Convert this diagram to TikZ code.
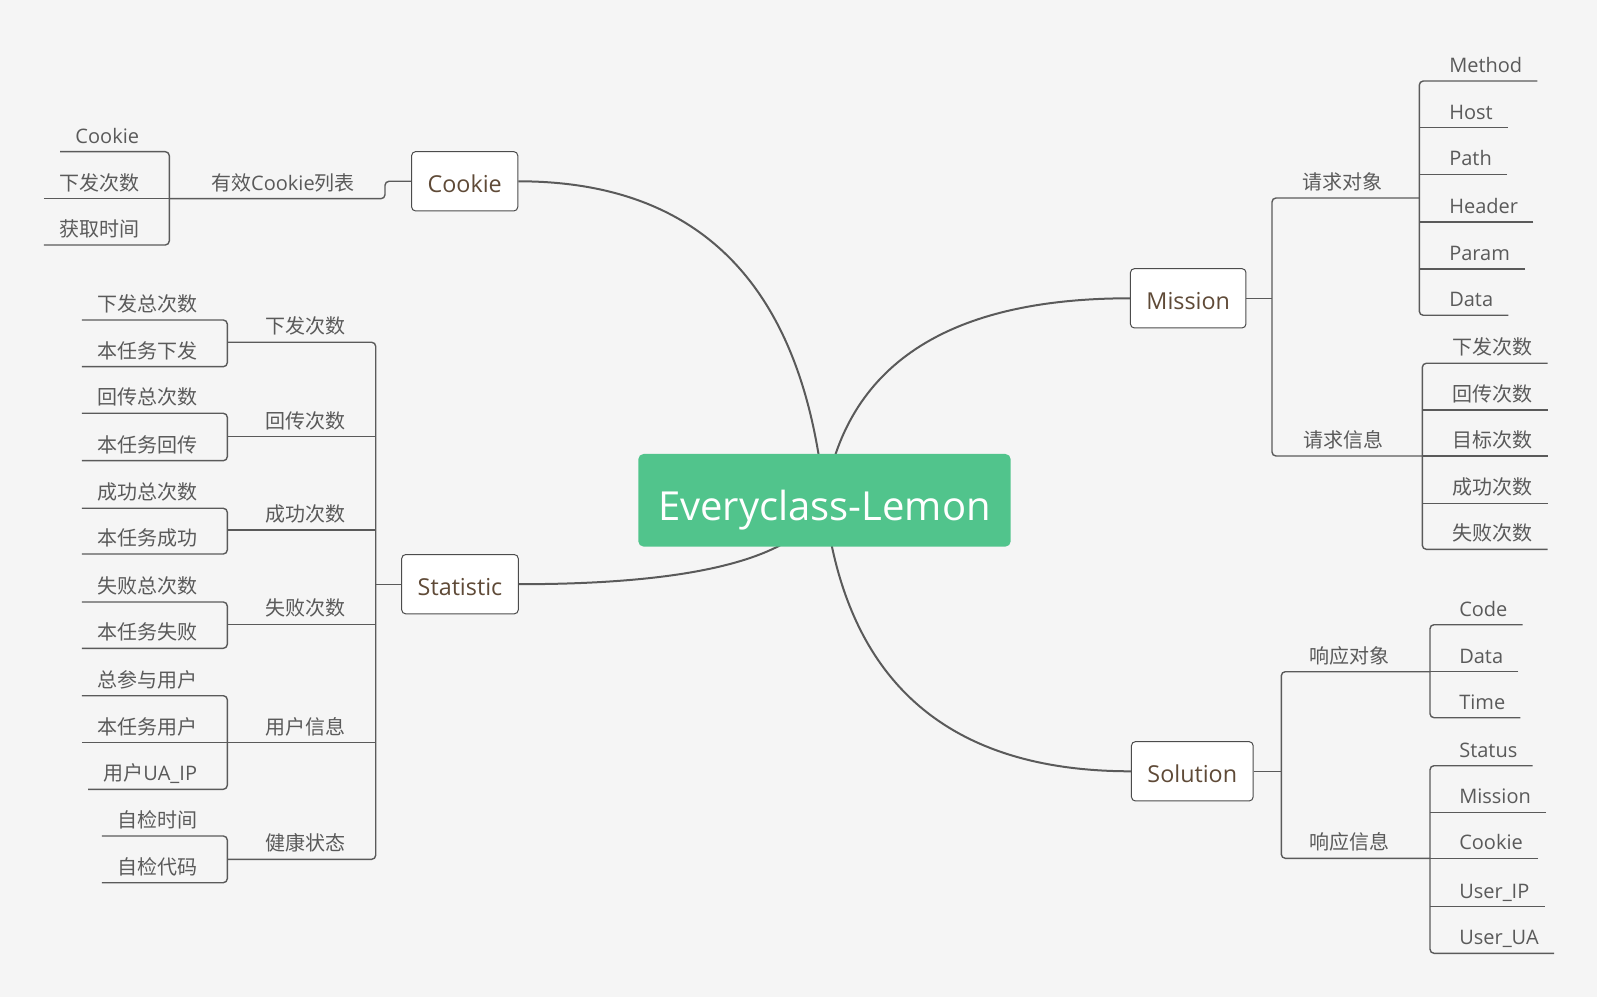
\documentclass[tikz,border=0pt]{standalone}
\usepackage{fontspec}
\setmainfont{Open Sans}
\newfontfamily\cjk{Noto Sans CJK SC}
\usetikzlibrary{calc,backgrounds}
\definecolor{paper}{HTML}{F5F5F5}
\definecolor{wire}{HTML}{5A5A5A}
\definecolor{ink}{HTML}{5A5A5A}
\definecolor{boxink}{HTML}{5F4A37}
\definecolor{hubgreen}{HTML}{51C48C}
\tikzset{
  topic/.style={inner xsep=11.25pt, inner ysep=0pt, text height=17.7pt, text depth=6.3pt,
    font=\fontsize{15}{18}\selectfont, text=ink},
  zh/.style={topic, font=\fontsize{15}{18}\selectfont\cjk},
  topicbox/.style={draw=wire!85!black, fill=white, rounded corners=3pt, line width=0.75pt,
    minimum height=44.5pt, inner xsep=12pt, inner ysep=0pt, text height=16.5pt, text depth=0pt,
    font=\fontsize{17.5}{20}\selectfont, text=boxink},
  hub/.style={fill=hubgreen, rounded corners=4pt, minimum width=279.3pt, minimum height=69.5pt,
    inner ysep=0pt, text height=31pt, text depth=0pt,
    font=\fontsize{30}{34}\selectfont, text=white},
  branch/.style={draw=wire, line width=1.05pt, rounded corners=3pt},
  bough/.style={draw=wire, line width=1.5pt},
}
\begin{document}
\begin{tikzpicture}[x=0.75pt, y=-0.75pt]
  \useasboundingbox (0,0) rectangle (1607,1005);
  % centre
  \node[hub] (root) at (824.5,500.3) {Everyclass-Lemon};
  \node[topicbox] (cookie) at (464.7,181.3) {Cookie};
  \node[topicbox] (stat) at (460,584.2) {Statistic};
  \node[topicbox] (mission) at (1188.2,298.3) {Mission};
  \node[topicbox] (sol) at (1192.3,771.3) {Solution};

  % Cookie
  \coordinate (cj) at (385,181.3);
  \coordinate (cl) at (169.3,198.7);
  \node[topic, anchor=south east] (ck) at (370,198.7) {{\cjk 有效}Cookie{\cjk 列表}};
  \node[topic, anchor=south east] (c1) at (154.3,151.7) {Cookie};
  \node[zh, anchor=south east] (c2) at (154.3,198.7) {下发次数};
  \node[zh, anchor=south east] (c3) at (154.3,245) {获取时间};
  \draw[branch] (cookie.west) -- (cj) |- (cl);
  \draw[branch] (c1.south west) -- (cl |- c1.south) -- (cl |- c3.south) -- (c3.south west);
  \draw[branch] (c2.south west) -- (cl);

  % Statistic
  \coordinate (sv) at (375.7,582.7);
  \coordinate (sl) at (227.3,582.7);
  \node[zh, anchor=south east] (s1) at (360.7,342.3) {下发次数};
  \node[zh, anchor=south east] (s2) at (360.7,436.7) {回传次数};
  \node[zh, anchor=south east] (s3) at (360.7,530) {成功次数};
  \node[zh, anchor=south east] (s4) at (360.7,624.3) {失败次数};
  \node[zh, anchor=south east] (s5) at (360.7,742.7) {用户信息};
  \node[zh, anchor=south east] (s6) at (360.7,859.3) {健康状态};
  \node[zh, anchor=south east] (s11) at (212.3,320) {下发总次数};
  \node[zh, anchor=south east] (s12) at (212.3,366.7) {本任务下发};
  \node[zh, anchor=south east] (s21) at (212.3,413.3) {回传总次数};
  \node[zh, anchor=south east] (s22) at (212.3,460.7) {本任务回传};
  \node[zh, anchor=south east] (s31) at (212.3,508.3) {成功总次数};
  \node[zh, anchor=south east] (s32) at (212.3,554) {本任务成功};
  \node[zh, anchor=south east] (s41) at (212.3,602) {失败总次数};
  \node[zh, anchor=south east] (s42) at (212.3,648.3) {本任务失败};
  \node[zh, anchor=south east] (s51) at (212.3,695.7) {总参与用户};
  \node[zh, anchor=south east] (s52) at (212.3,742.7) {本任务用户};
  \node[topic, anchor=south east] (s53) at (212.3,789.3) {{\cjk 用户}UA\_IP};
  \node[zh, anchor=south east] (s61) at (212.3,836) {自检时间};
  \node[zh, anchor=south east] (s62) at (212.3,882.7) {自检代码};
  \draw[branch] (stat.west) -- (stat.west -| sv);
  \draw[branch] (sl |- s1.south) -- (sv |- s1.south) -- (sv |- s6.south) -- (sl |- s6.south);
  \draw[branch] (sl |- s2.south) -- (sv |- s2.south);
  \draw[branch] (sl |- s3.south) -- (sv |- s3.south);
  \draw[branch] (sl |- s4.south) -- (sv |- s4.south);
  \draw[branch] (sl |- s5.south) -- (sv |- s5.south);
  \draw[branch] (s11.south west) -- (sl |- s11.south) -- (sl |- s12.south) -- (s12.south west);
  \draw[branch] (s21.south west) -- (sl |- s21.south) -- (sl |- s22.south) -- (s22.south west);
  \draw[branch] (s31.south west) -- (sl |- s31.south) -- (sl |- s32.south) -- (s32.south west);
  \draw[branch] (s41.south west) -- (sl |- s41.south) -- (sl |- s42.south) -- (s42.south west);
  \draw[branch] (s51.south west) -- (sl |- s51.south) -- (sl |- s53.south) -- (s53.south west);
  \draw[branch] (s52.south west) -- (sl |- s52.south);
  \draw[branch] (s61.south west) -- (sl |- s61.south) -- (sl |- s62.south) -- (s62.south west);

  % Mission
  \coordinate (mv) at (1272,296.7);
  \coordinate (ml1) at (1419.3,198);
  \coordinate (ml2) at (1422.3,456);
  \node[zh, anchor=south west] (m1) at (1287,198) {请求对象};
  \node[zh, anchor=south west] (m2) at (1288,456) {请求信息};
  \node[topic, anchor=south west] (m11) at (1434,81) {Method};
  \node[topic, anchor=south west] (m12) at (1434,127.7) {Host};
  \node[topic, anchor=south west] (m13) at (1434,174.3) {Path};
  \node[topic, anchor=south west] (m14) at (1434,222) {Header};
  \node[topic, anchor=south west] (m15) at (1434,269) {Param};
  \node[topic, anchor=south west] (m16) at (1434,315.3) {Data};
  \node[zh, anchor=south west] (m21) at (1437,363.3) {下发次数};
  \node[zh, anchor=south west] (m22) at (1437,410) {回传次数};
  \node[zh, anchor=south west] (m23) at (1437,456) {目标次数};
  \node[zh, anchor=south west] (m24) at (1437,503.3) {成功次数};
  \node[zh, anchor=south west] (m25) at (1437,549.3) {失败次数};
  \draw[branch] (mission.east) -- (mission.east -| mv);
  \draw[branch] (ml1) -- (mv |- ml1) -- (mv |- ml2) -- (ml2);
  \draw[branch] (m11.south east) -- (ml1 |- m11.south) -- (ml1 |- m16.south) -- (m16.south east);
  \draw[branch] (m12.south east) -- (ml1 |- m12.south);
  \draw[branch] (m13.south east) -- (ml1 |- m13.south);
  \draw[branch] (m14.south east) -- (ml1 |- m14.south);
  \draw[branch] (m15.south east) -- (ml1 |- m15.south);
  \draw[branch] (m21.south east) -- (ml2 |- m21.south) -- (ml2 |- m25.south) -- (m25.south east);
  \draw[branch] (m22.south east) -- (ml2 |- m22.south);
  \draw[branch] (m23.south east) -- (ml2 |- m23.south);
  \draw[branch] (m24.south east) -- (ml2 |- m24.south);

  % Solution
  \coordinate (ov) at (1281.3,770.7);
  \coordinate (ol1) at (1430,671.7);
  \coordinate (ol2) at (1430,858.3);
  \node[zh, anchor=south west] (o1) at (1294,671.7) {响应对象};
  \node[zh, anchor=south west] (o2) at (1294,858.3) {响应信息};
  \node[topic, anchor=south west] (o11) at (1444,624.7) {Code};
  \node[topic, anchor=south west] (o12) at (1444,671.7) {Data};
  \node[topic, anchor=south west] (o13) at (1444,717.7) {Time};
  \node[topic, anchor=south west] (o21) at (1444,765.7) {Status};
  \node[topic, anchor=south west] (o22) at (1444,812.3) {Mission};
  \node[topic, anchor=south west] (o23) at (1444,858.3) {Cookie};
  \node[topic, anchor=south west] (o24) at (1444,906.7) {User\_IP};
  \node[topic, anchor=south west] (o25) at (1444,953.3) {User\_UA};
  \draw[branch] (sol.east) -- (sol.east -| ov);
  \draw[branch] (ol1) -- (ov |- ol1) -- (ov |- ol2) -- (ol2);
  \draw[branch] (o11.south east) -- (ol1 |- o11.south) -- (ol1 |- o13.south) -- (o13.south east);
  \draw[branch] (o12.south east) -- (ol1 |- o12.south);
  \draw[branch] (o21.south east) -- (ol2 |- o21.south) -- (ol2 |- o25.south) -- (o25.south east);
  \draw[branch] (o22.south east) -- (ol2 |- o22.south);
  \draw[branch] (o23.south east) -- (ol2 |- o23.south);
  \draw[branch] (o24.south east) -- (ol2 |- o24.south);

  % curves to the centre, under it
  \begin{scope}[on background layer]
    \fill[white] (0,0) rectangle (1607,1005);
    \fill[paper] (0,0) rectangle (1597,997);
    \coordinate (qa) at ($(root.center)!0.1!(cookie.east)$);
    \coordinate (qb) at ($(root.center)!0.1!(stat.east)$);
    \coordinate (qc) at ($(root.center)!0.1!(mission.west)$);
    \coordinate (qd) at ($(root.center)!0.1!(sol.west)$);
    \draw[bough] (cookie.east) .. controls ($(cookie.east)!0.667!(qa |- cookie.east)$) and ($(root.center)!0.667!(qa |- cookie.east)$) .. (root.center);
    \draw[bough] (stat.east) .. controls ($(stat.east)!0.667!(qb |- stat.east)$) and ($(root.center)!0.667!(qb |- stat.east)$) .. (root.center);
    \draw[bough] (mission.west) .. controls ($(mission.west)!0.667!(qc |- mission.west)$) and ($(root.center)!0.667!(qc |- mission.west)$) .. (root.center);
    \draw[bough] (sol.west) .. controls ($(sol.west)!0.667!(qd |- sol.west)$) and ($(root.center)!0.667!(qd |- sol.west)$) .. (root.center);
  \end{scope}
\end{tikzpicture}
\end{document}
